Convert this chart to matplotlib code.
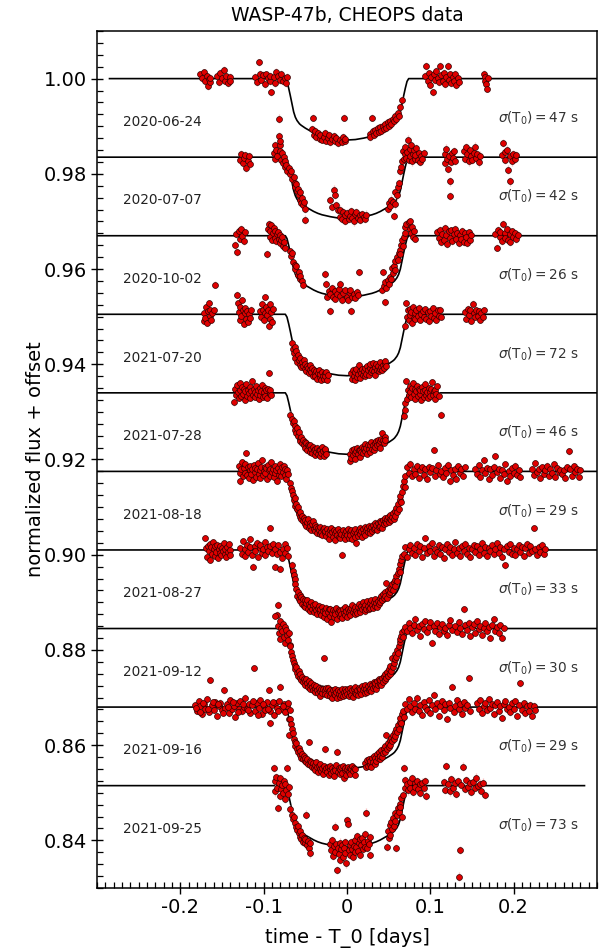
import numpy as np
import matplotlib
matplotlib.use("Agg")
import matplotlib.pyplot as plt
from matplotlib.ticker import MultipleLocator

plt.rcParams['axes.unicode_minus'] = False
plt.rcParams['font.family'] = ['DejaVu Sans']

# ---------------- data ----------------
dates = ["2020-06-24", "2020-07-07", "2020-10-02", "2021-07-20", "2021-07-28",
         "2021-08-18", "2021-08-27", "2021-09-12", "2021-09-16", "2021-09-25"]
sigma_t0_s = [47, 42, 26, 72, 46, 29, 33, 30, 29, 73]
baselines = [1.0, 0.9835, 0.967, 0.9505, 0.934, 0.9175, 0.901, 0.8845, 0.868, 0.8515]
# model-line time extent for each visit (days)
line_start = [-0.285, -0.31, -0.31, -0.31, -0.31, -0.31, -0.31, -0.31, -0.31, -0.31]
line_end = [0.31, 0.31, 0.31, 0.31, 0.31, 0.31, 0.31, 0.31, 0.31, 0.285]
# transit model profile (time in milli-days, depth in ppt)
model_t_md = [-74, -72, -70, -68, -66, -64, -62, -60, -57, -55, -50, -45, -40, -35, -30,
              -25, -20, -10, 0, 10, 20, 25, 30, 35, 40, 45, 50, 55, 57, 60, 62, 64, 66,
              68, 70, 72, 74]
model_depth_ppt = [0, 0.6, 2.0, 3.6, 5.3, 7.0, 8.1, 8.8, 9.5, 9.8, 10.4, 10.9, 11.4, 11.8,
                   12.1, 12.3, 12.5, 12.8, 12.9, 12.8, 12.5, 12.3, 12.1, 11.8, 11.4, 10.9,
                   10.4, 9.8, 9.5, 8.8, 8.1, 7.0, 5.3, 3.6, 2.0, 0.6, 0]
err_ppt = [0.8, 0.9, 0.8, 0.7, 0.7, 0.7, 0.7, 0.7, 0.7, 0.9]

# light-curve points: pairs (time in milli-days, flux deviation from baseline in ppt)
lc_0624 = [
 -176,0.9, -174,0.2, -172,1.3, -170,-0.5, -168,0.6, -167,-1.5, -166,-0.1, -165,-0.8, -164,0.2,
 -156,0.5, -154,-0.7, -152,1.2, -150,0.1, -148,1.9, -147,-0.4, -145,0.6, -143,-1.0, -141,0.3, -140,-0.6,
 -110,0.4, -108,-0.8, -106,3.4, -105,1.0, -103,-0.2, -101,0.7, -99,-1.1, -97,0.9, -95,0.2, -93,-0.6, -92,0.5, -91,-2.9,
 -88,0.3, -86,-0.9, -85,1.4, -83,0.6, -81,-0.3, -79,1.0, -77,-0.5, -75,0.2, -73,-1.0, -72,0.4,
 -42,-10.6, -41,-8.2, -40,-11.8, -38,-11.0, -37,-12.3, -35,-11.5, -33,-12.6, -32,-11.9, -30,-12.8, -28,-12.2,
 -27,-11.4, -25,-13.0, -23,-12.4, -22,-11.8, -20,-13.4, -18,-12.7, -16,-12.0, -15,-13.1, -13,-12.5, -11,-13.6,
 -8,-12.9, -6,-13.3, -5,-12.2, -4,-8.2, -3,-13.0, -2,-12.6,
 27,-11.6, 28,-12.3, 30,-8.2, 31,-11.0, 32,-11.9, 34,-10.7, 35,-11.5, 37,-10.4, 38,-11.2, 40,-10.1,
 41,-10.9, 43,-9.9, 44,-10.6, 46,-9.5, 47,-10.3, 49,-9.2, 50,-9.9, 52,-8.8, 53,-9.6, 55,-8.4,
 56,-9.0, 58,-7.9, 59,-8.5, 61,-7.2, 62,-7.8, 64,-6.0, 66,-4.4,
 94,0.5, 95,2.7, 97,-0.6, 98,1.1, 100,-1.4, 101,0.3, 103,-2.9, 104,0.9, 106,-0.3, 107,1.6,
 109,0.2, 110,-0.8, 112,2.6, 113,0.7, 115,-0.5, 116,1.2, 118,-1.1, 119,0.4, 121,2.6, 122,-0.2,
 124,0.9, 125,-0.9, 127,0.3, 128,-0.4, 130,1.0, 131,-1.3, 133,0.1, 134,-0.7,
 164,1.0, 165,0.3, 166,-0.5, 167,-1.2, 168,-2.1, 169,0.1]

lc_0707 = [
 -128,-0.5, -127,0.6, -125,-1.2, -124,-0.1, -122,0.4, -121,-2.2, -119,-0.8, -118,0.2, -117,-1.5,
 -88,0.8, -87,2.5, -86,-0.3, -85,1.5, -84,0.2, -82,8.1, -82,4.4, -81,2.6, -80,3.3, -80,1.2,
 -79,-0.5, -78,0.9, -77,-1.3, -76,0.1, -75,-2.0, -74,-0.7, -73,-1.6, -72,-2.8, -70,-2.2, -69,-3.5,
 -67,-3.0, -66,-4.6, -64,-4.1, -63,-5.4, -62,-6.3, -61,-5.7, -60,-7.1, -59,-6.6, -58,-8.0, -57,-7.4,
 -56,-8.9, -55,-9.6, -54,-8.5, -53,-10.1, -52,-9.4, -51,-10.8, -50,-13.1,
 -20,-9.0, -18,-10.5, -16,-6.8, -14,-7.9, -13,-10.1, -11,-11.2, -9,-12.5, -8,-11.0, -6,-12.9, -5,-11.6,
 -3,-13.4, -2,-12.2, 0,-11.8, 2,-13.0, 3,-12.4, 5,-11.3, 6,-12.7, 8,-13.5, 10,-12.0, 11,-11.5,
 13,-12.8, 15,-12.2, 16,-13.2, 18,-11.9, 20,-12.5, 22,-13.0, 23,-12.1,
 49,-10.8, 50,-9.6, 52,-10.2, 53,-8.9, 55,-9.5, 56,-12.4, 57,-9.9, 58,-7.4, 60,-8.0, 61,-6.2, 62,-5.5,
 64,-3.0, 65,-2.1, 66,-0.8, 67,1.2, 68,-0.4, 69,0.6, 70,2.2, 71,-0.2, 72,1.0, 73,3.7,
 74,-0.6, 75,1.8, 76,0.3, 77,2.6, 78,-0.9, 79,0.7, 80,1.5, 81,-0.3, 82,0.4, 83,1.9,
 85,-0.5, 86,0.8, 88,-1.0, 89,0.2, 90,-0.4, 92,0.9,
 117,0.6, 118,-1.3, 119,1.8, 120,-0.4, 121,-2.5, 122,0.2, 123,-8.2, 124,-5.1, 125,-1.0, 126,0.9,
 127,-0.2, 128,1.3, 130,-0.7,
 140,1.2, 141,-0.3, 143,2.1, 144,0.6, 146,-0.9, 147,1.5, 149,0.2, 150,-0.6, 152,0.9, 153,2.2,
 155,-0.2, 156,0.7, 158,-1.1, 160,0.3,
 186,0.4, 187,3.0, 189,1.1, 190,-0.5, 192,1.6, 193,-2.6, 195,-5.1, 196,0.2, 198,-0.9, 199,0.7,
 201,-0.3, 203,0.5]

lc_1002 = [
 -134,-2.0, -133,0.4, -132,-3.5, -130,1.0, -129,-0.6, -127,1.5, -126,0.0, -124,-1.1, -123,0.7,
 -96,-3.9, -95,1.4, -94,2.5, -93,-0.3, -92,0.9, -91,2.2, -90,-0.8, -89,0.5, -88,1.6, -87,-0.5,
 -86,1.0, -85,-1.2, -84,0.3, -83,0.8, -82,-0.6, -81,-1.5, -80,0.2, -79,-1.0, -78,-0.3, -77,-2.1,
 -76,-1.4, -75,-2.6,
 -68,-3.3, -67,-4.2, -66,-3.7, -65,-5.5, -63,-6.1, -62,-7.0, -61,-6.4, -59,-8.2, -58,-7.6, -57,-9.0,
 -56,-8.4, -54,-9.6, -53,-10.3,
 -26,-8.1, -25,-10.2, -24,-12.8, -22,-11.6, -21,-15.8, -20,-12.2, -18,-11.0, -17,-12.9, -15,-11.7, -14,-13.2,
 -12,-12.3, -10,-11.1, -9,-10.2, -8,-12.6, -6,-13.5, -5,-12.0, -3,-11.4, 0,-12.8, 1,-13.6, 3,-12.1,
 4,-11.5, 5,-15.8, 6,-12.9, 8,-12.2, 10,-13.0, 12,-11.8, 13,-12.5, 14,-7.7,
 42,-11.4, 43,-7.7, 44,-10.6, 45,-14.0, 46,-9.8, 47,-10.9, 49,-9.3, 50,-10.1, 51,-8.6, 53,-9.0,
 54,-6.7, 55,-7.9, 56,-6.3, 57,-7.2, 58,-5.4, 60,-4.5, 61,-5.2, 62,-3.6, 63,-2.9, 64,-3.8,
 65,-1.9, 66,-1.0, 67,-2.2, 68,-0.3, 69,0.5, 70,1.9, 71,2.4,
 74,2.8, 75,1.5, 76,3.0, 77,0.6, 78,1.8, 79,-0.2, 80,0.9, 81,-0.6,
 108,0.8, 110,-0.5, 111,1.3, 113,-1.4, 114,0.4, 116,-0.9, 117,1.6, 119,0.1, 120,-1.8, 122,0.9,
 123,-0.4, 125,1.1, 126,-1.2, 128,0.3, 129,1.5, 131,-0.7, 132,0.6, 134,-1.5, 135,0.2, 137,-0.6,
 138,1.0, 140,-1.3, 141,0.5, 143,-0.2, 144,-1.6, 146,0.7, 147,-0.9, 149,0.2,
 178,0.4, 180,-2.5, 181,1.2, 183,-0.3, 184,0.8, 186,-1.1, 187,2.5, 189,0.6, 190,-0.5, 192,1.4,
 193,-0.8, 195,0.3, 196,-1.3, 198,0.9, 199,-0.2, 201,0.5, 203,-0.7, 205,0.1]

lc_0720 = [
 -172,-1.4, -171,0.3, -170,-0.7, -169,1.5, -168,-1.8, -167,0.6, -166,2.4, -165,-0.3, -164,1.0, -163,-1.1,
 -162,0.2, -160,0.8, -158,6.2,
 -132,4.1, -131,2.3, -130,0.5, -129,-1.2, -128,1.6, -127,-0.4, -126,3.0, -125,0.9, -124,-2.0, -123,0.2,
 -122,1.3, -121,-0.9, -120,0.6, -119,-1.6, -118,0.1, -116,-0.8, -115,1.0,
 -104,0.7, -103,-0.6, -102,2.2, -101,1.0, -100,-1.3, -99,0.3, -98,3.6, -97,1.5, -96,-0.2, -95,0.8,
 -94,-2.5, -93,2.1, -92,-0.9, -91,0.4, -90,-1.7, -89,1.2,
 -66,-6.0, -65,-7.3, -64,-8.2, -63,-6.9, -62,-9.1, -61,-7.8, -60,-10.0, -59,-8.6, -58,-9.5, -57,-10.6,
 -56,-9.2, -55,-11.0, -54,-10.1, -53,-10.8, -52,-9.7, -51,-11.5, -50,-10.4, -49,-11.9, -48,-10.9, -47,-11.3,
 -46,-12.4, -45,-10.7, -44,-11.8, -43,-12.1, -42,-11.2, -41,-13.0, -40,-11.6, -39,-12.3, -38,-12.9, -37,-11.9,
 -36,-13.5, -35,-12.4, -34,-11.8, -33,-13.2, -32,-12.6, -31,-13.8, -30,-12.1, -29,-12.9, -28,-13.6, -27,-12.4,
 -26,-13.0, -25,-12.2, -24,-13.8, -23,-12.7,
 5,-12.4, 6,-13.5, 7,-11.6, 8,-12.9, 9,-13.8, 10,-12.2, 11,-11.4, 12,-13.1, 13,-12.6, 14,-10.7,
 15,-12.0, 16,-13.3, 17,-12.3, 18,-11.5, 19,-12.8, 20,-11.9, 21,-13.0, 22,-11.2, 23,-12.5, 24,-10.9,
 25,-11.8, 26,-12.7, 27,-11.3, 28,-10.5, 29,-12.1, 30,-11.6, 31,-10.2, 32,-11.9, 33,-12.8, 34,-11.1,
 35,-10.4, 36,-11.7, 37,-10.8, 38,-12.0, 39,-11.4, 40,-10.1, 41,-11.0, 42,-11.8, 43,-10.6, 44,-11.3,
 45,-10.3, 46,-9.8, 47,-10.9,
 70,-2.5, 71,2.4, 72,-0.6, 73,0.8, 74,-1.3, 75,1.2, 76,-0.2, 77,0.5, 78,-1.9, 79,1.6,
 80,-0.7, 81,0.3, 82,-1.0, 83,0.9, 85,-0.4, 86,1.4, 88,-1.2, 89,0.1, 91,0.7, 92,-0.5,
 94,1.1, 95,-0.9, 97,0.4, 98,-1.5, 100,0.6, 101,-0.3, 103,1.3, 104,-0.8, 106,0.2, 107,-1.1,
 109,0.8, 110,-0.4, 112,1.0, 113,-0.6,
 142,0.5, 143,-0.9, 145,1.2, 146,-0.2, 148,0.8, 149,-1.4, 151,2.2, 152,0.3, 154,-0.6, 155,1.0,
 157,-0.3, 158,0.6, 160,-1.1, 161,0.2, 163,-0.5, 164,0.9]

lc_0728 = [
 -136,-2.0, -134,0.8, -133,-0.5, -132,1.6, -131,0.2, -130,-1.0, -129,2.1, -128,0.5, -127,-0.7, -126,1.3,
 -125,-0.2, -124,0.9, -123,-1.4, -122,0.4, -121,1.8, -120,-0.6, -119,0.7, -118,-0.1, -117,1.2, -116,-1.1,
 -115,0.3, -114,2.4, -113,-0.4, -112,0.9, -111,-0.9, -110,0.1, -109,1.5, -108,-0.3, -107,0.6, -106,-1.2,
 -105,1.0, -104,-0.5, -103,0.4, -102,1.7, -101,-0.8, -100,0.2, -99,1.1, -98,-0.6, -97,0.5, -96,-1.0,
 -95,0.8, -94,4.2, -93,-0.2, -92,0.6, -91,-0.4,
 -68,-4.6, -66,-5.4, -65,-6.3, -64,-5.9, -63,-7.0, -62,-7.8, -61,-8.5, -60,-7.4, -59,-9.0, -58,-8.2,
 -57,-9.6, -56,-10.1,
 -55,-9.2, -54,-10.5, -53,-9.8, -52,-11.0, -51,-10.3, -50,-11.5, -49,-10.6, -48,-11.9, -47,-10.9, -46,-11.2,
 -45,-12.4, -44,-11.0, -43,-11.7, -42,-12.6, -41,-11.3, -40,-12.1, -39,-13.0, -38,-11.8, -37,-12.4, -36,-11.5,
 -35,-12.8, -34,-12.0, -33,-13.2, -32,-11.9, -31,-12.6, -30,-11.4, -29,-12.3, -28,-13.3, -27,-12.1, -26,-11.7,
 -25,-12.9,
 3,-14.4, 4,-12.8, 5,-13.6, 6,-12.1, 7,-13.1, 8,-11.8, 9,-12.6, 10,-13.8, 11,-12.3, 12,-11.5,
 13,-12.9, 14,-12.0, 15,-13.4, 16,-11.9, 17,-12.5, 18,-11.3, 19,-12.7, 20,-11.6, 21,-10.8, 22,-12.2,
 23,-11.5, 24,-12.8, 25,-10.9, 26,-11.7, 27,-12.4, 28,-11.0, 29,-10.4, 30,-11.8, 31,-10.9, 32,-12.0,
 33,-10.6, 34,-11.3, 35,-10.1, 36,-11.0, 37,-9.8, 38,-10.7, 39,-11.5, 40,-10.2, 41,-9.6, 42,-8.4,
 43,-9.9, 44,-10.5, 45,-9.2, 46,-10.0,
 68,-4.9, 69,-3.6, 70,-2.2, 71,2.5, 72,-1.3, 73,0.6, 74,-0.5, 75,1.4, 76,0.2, 77,-0.9,
 78,1.0, 79,2.1, 80,-0.3, 81,0.8, 82,-1.2, 83,0.4, 84,1.5, 85,-0.6, 86,0.9, 87,-0.2,
 88,0.5, 89,-1.5, 90,1.2, 91,0.3, 92,-0.8, 93,0.7, 94,1.9, 95,-0.4, 96,0.2, 97,-1.0,
 98,1.1, 99,0.1, 100,-0.7, 101,0.9, 102,2.2, 103,-0.5, 104,0.3, 105,-1.2, 106,0.6, 107,-0.3,
 108,1.4, 110,-0.6, 113,-4.6]

lc_0818 = [
 -130,1.2, -129,-0.3, -128,-2.1, -127,0.5, -126,2.0, -125,-1.0, -124,0.7, -123,-0.4, -122,1.5, -121,3.9,
 -120,-0.7, -119,0.9, -118,-1.4, -117,0.2, -116,1.1, -115,-0.6, -114,0.6, -113,-1.8, -112,1.3, -111,-0.2,
 -110,0.8, -109,-1.1, -108,0.4, -107,1.7, -106,-0.5, -105,0.3, -104,-1.3, -103,0.9, -102,2.3, -101,-0.8,
 -100,0.1, -99,1.0, -98,-0.3, -97,0.7, -96,-1.5, -95,1.4, -94,0.2, -93,-0.9, -92,0.6, -91,1.9,
 -90,-0.2, -89,0.5, -88,-1.2, -87,1.1, -86,-0.4, -85,0.3, -84,-2.0, -83,0.8, -82,-0.7, -81,1.6,
 -80,0.1, -79,-1.0, -78,0.9, -77,-0.1, -76,1.2, -75,-0.8, -74,0.4, -73,-1.6, -72,0.2, -71,-0.5,
 -68,-2.5, -67,-3.4, -66,-4.2, -65,-5.0, -64,-6.1, -63,-5.6, -62,-7.2, -61,-6.8, -60,-8.0, -59,-7.5,
 -58,-8.9, -57,-9.6, -56,-8.6, -55,-10.1, -54,-9.3, -53,-10.5, -52,-9.7, -51,-11.0, -50,-10.2, -49,-11.4,
 -48,-10.6, -47,-9.9, -46,-11.8, -45,-10.9, -44,-11.5, -43,-12.3, -42,-11.1, -41,-10.4, -40,-12.0, -39,-11.3,
 -38,-12.6, -37,-11.7, -36,-12.9, -35,-11.9, -34,-12.4, -33,-13.1, -32,-11.6, -31,-12.7, -30,-13.4, -29,-12.2,
 -28,-11.8, -27,-13.0, -26,-12.5, -25,-13.6, -24,-12.0, -23,-12.9, -22,-14.2, -21,-12.4, -20,-13.2, -19,-11.9,
 -18,-12.8, -17,-13.7, -16,-12.3, -15,-13.0, -14,-14.5, -13,-12.6, -12,-13.3, -11,-12.1, -10,-13.8, -9,-12.7,
 -8,-14.0, -7,-13.1, -6,-17.5, -5,-12.4, -4,-13.5, -3,-12.9, -2,-14.1, -1,-12.6, 0,-13.3, 1,-12.0,
 2,-13.9, 3,-12.8, 4,-13.4, 5,-12.3, 6,-14.3, 7,-13.0, 8,-12.5, 9,-13.7, 10,-12.2, 11,-15.1,
 12,-12.9, 13,-13.5, 14,-12.4, 15,-11.8, 16,-13.1, 17,-12.6, 18,-13.8, 19,-12.0, 20,-12.9, 21,-11.6,
 22,-13.3, 23,-12.4, 24,-11.9, 25,-12.8, 26,-11.4, 27,-12.3, 28,-13.0, 29,-11.7, 30,-12.5, 31,-11.2,
 32,-12.1, 33,-10.8, 34,-11.9, 35,-11.3, 36,-12.4, 37,-10.9, 38,-11.6, 39,-10.5, 40,-11.4, 41,-10.7,
 42,-11.8, 43,-10.2, 44,-11.1, 45,-10.4, 46,-9.8, 47,-10.9, 48,-10.1, 49,-9.5, 50,-10.6, 51,-9.9,
 52,-9.2, 53,-10.3, 54,-9.6, 55,-8.8, 56,-9.9, 57,-8.4, 58,-9.3, 59,-7.6, 60,-8.5, 61,-6.9,
 62,-7.8, 63,-6.1, 64,-5.2, 65,-6.4, 66,-4.3, 67,-3.0, 68,-2.1, 69,-1.0, 70,-3.2,
 72,0.9, 74,-0.3, 76,1.6, 78,-1.0, 80,0.4, 82,-0.5, 84,1.2, 86,-1.3, 88,0.2, 90,0.9,
 92,-0.7, 94,0.5, 96,-1.6, 98,1.0, 100,-0.2, 102,0.7, 104,4.5, 105,-0.9, 107,0.3, 109,1.3,
 111,-0.6, 113,0.1, 115,-1.2, 117,0.8, 119,-0.4, 121,1.4, 123,-2.1, 125,0.2, 127,-0.8, 129,0.6,
 131,-1.5, 133,1.1, 135,-0.3, 137,0.4, 139,-1.0, 141,0.9,
 154,0.6, 156,-0.5, 158,1.3, 160,-1.1, 162,0.2, 164,2.3, 166,-0.3, 168,0.8, 170,-1.6, 172,0.4,
 174,-0.8, 176,1.0, 178,3.2, 180,-0.2, 182,0.6, 184,-1.3, 186,0.3, 188,-0.6, 190,1.5, 192,-2.0,
 194,0.1, 196,-0.9, 198,0.7, 200,-0.4, 202,1.2, 204,-0.7, 206,0.3, 208,-1.1,
 222,0.5, 224,-0.8, 226,1.7, 228,-0.2, 230,0.6, 232,-1.3, 234,0.9, 236,-0.5, 238,0.2, 240,1.2,
 242,-0.9, 244,0.4, 246,-0.3, 248,1.5, 250,-1.1, 252,0.7, 254,-0.1, 256,0.3, 258,-0.6, 260,0.3,
 262,-1.4, 264,0.9, 266,4.2, 268,0.6, 270,-0.9, 272,1.1, 274,-0.2, 276,0.5, 278,-1.2, 280,0.2]

lc_0827 = [
 -170,2.5, -169,0.4, -168,-1.5, -167,0.9, -166,-0.3, -165,1.3, -164,-2.1, -163,0.6, -162,-0.8, -161,1.6,
 -160,0.1, -159,-1.2, -158,0.8, -157,-0.4, -156,1.1, -155,-1.7, -154,0.3, -153,-0.6, -152,0.9, -151,-1.0,
 -150,0.5, -149,-0.2, -148,1.4, -147,-0.9, -146,0.2, -145,-1.4, -144,0.7, -143,-0.5, -142,1.2, -141,-0.1,
 -140,-1.1,
 -128,0.5, -126,-0.9, -125,1.8, -123,0.3, -122,-1.3, -120,1.0, -119,-0.4, -117,2.2, -116,0.6, -114,-1.0,
 -113,-3.5, -111,0.8, -110,-0.3, -108,1.5, -107,-1.5, -105,0.4, -104,1.1, -102,-0.6, -101,0.2, -99,1.7,
 -98,-1.1, -96,0.7, -95,-0.2, -93,4.6, -92,0.9, -90,-0.7, -89,1.3, -87,-3.5, -86,0.3, -84,-0.9,
 -83,1.0, -81,-0.4, -80,-3.9, -78,-1.6, -77,0.2, -75,1.2, -74,-0.7, -72,0.5, -71,-1.2,
 -66,-3.1, -65,-4.4, -64,-5.2, -63,-6.0, -62,-7.1, -61,-8.3, -60,-9.6, -59,-8.8, -58,-10.2, -57,-9.4,
 -56,-10.8, -55,-9.9, -54,-11.3, -53,-10.4, -52,-11.7, -51,-10.6, -50,-12.0, -49,-11.1, -48,-10.5, -47,-12.3,
 -46,-11.4, -45,-12.8, -44,-11.8, -43,-10.9, -42,-12.5, -41,-11.6, -40,-13.0, -39,-12.1, -38,-11.3, -37,-12.7,
 -36,-13.4, -35,-12.2, -34,-11.7, -33,-13.1, -32,-12.4, -31,-13.7, -30,-12.0, -29,-12.9, -28,-14.1, -27,-12.6,
 -26,-13.3, -25,-12.1, -24,-14.4, -23,-13.0, -22,-12.5, -21,-13.8, -20,-12.3, -19,-15.1, -18,-13.2, -17,-12.7,
 -16,-14.0, -15,-12.9, -14,-13.5, -13,-12.2, -12,-14.6, -11,-13.1, -10,-12.6, -9,-13.9, -8,-12.8, -7,-13.4,
 -6,-14.3, -5,-12.5, -4,-13.2, -3,-12.0, -2,-13.7, -1,-12.9, 0,-14.0, 1,-12.4, 2,-13.1, 3,-12.7,
 4,-13.6, 5,-12.1, 6,-11.5, 7,-13.0, 8,-12.3, 9,-13.5, 10,-11.9, 11,-12.8, 12,-13.3, 13,-12.0,
 14,-11.4, 15,-12.6, 16,-13.1, 17,-11.8, 18,-12.4, 19,-10.9, 20,-12.0, 21,-12.9, 22,-11.6, 23,-12.3,
 24,-10.8, 25,-11.7, 26,-12.5, 27,-11.2, 28,-12.1, 29,-10.6, 30,-11.5, 31,-12.2, 32,-10.9, 33,-11.8,
 34,-10.3, 35,-11.1, 36,-12.0, 37,-10.7, 38,-11.4, 39,-10.0, 40,-11.0, 41,-9.7, 42,-10.6, 43,-9.2,
 44,-10.1, 45,-8.8, 46,-9.7, 47,-7.0, 48,-10.0, 49,-8.4, 50,-9.3, 51,-7.9, 52,-8.8, 53,-8.1,
 54,-7.2, 55,-8.4, 56,-6.8, 57,-7.6, 58,-6.3, 59,-5.5, 60,-6.6, 61,-4.8, 62,-3.9, 63,-4.6,
 64,-3.0, 65,-2.2, 66,-1.3,
 68,-0.9, 70,0.6, 72,-1.4, 74,0.2, 76,1.1, 78,-0.6, 80,0.4, 82,-1.0, 84,1.3, 86,-0.3,
 88,0.8, 90,-1.5, 92,0.5, 94,2.5, 96,-0.7, 98,0.9, 100,-0.2, 102,1.4, 104,-1.2, 106,0.3,
 108,-0.5, 110,1.0, 112,-0.9, 114,0.6, 116,-1.6, 118,0.2, 120,1.2, 122,-0.4, 124,0.7, 126,-1.1,
 128,0.1, 130,1.6, 132,-0.6, 134,0.4, 136,-1.3, 138,0.9, 140,-0.2, 142,1.3, 144,-0.8, 146,0.5,
 148,-1.4, 150,0.3, 152,1.0, 154,-0.5, 156,0.8, 158,-1.0, 160,0.2, 162,1.5, 164,-0.7, 166,0.6,
 168,-1.2, 170,0.4, 172,-0.3, 174,1.1, 176,-0.9, 178,0.3, 180,1.4, 182,-0.6, 184,0.7, 186,-1.5,
 188,0.1, 190,-3.2, 192,0.9, 194,-0.4, 196,1.2, 198,-0.8, 200,0.5, 202,-1.1, 204,0.2, 206,1.0,
 208,-0.5, 210,0.6, 212,-1.3, 214,0.4, 216,1.3, 218,-0.7, 220,0.8, 222,-0.2, 224,4.6, 226,0.3,
 228,-1.0, 230,0.7, 232,-0.4, 234,1.1, 236,-0.8, 238,0.2]

lc_0912 = [
 -84,2.9, -83,0.6, -82,-1.0, -81,1.5, -80,-2.2, -79,0.2, -78,-0.6, -77,1.0, -76,-1.8, -75,0.4,
 -74,-3.0, -73,-0.3, -72,-1.4, -71,-2.5, -70,-0.9, -69,-3.4, -83,5.0, -86,2.6,
 -68,-3.7, -67,-4.9, -66,-5.8, -65,-6.6, -64,-7.3, -63,-7.9, -62,-8.6, -61,-8.1, -60,-9.3, -59,-9.9,
 -58,-9.0, -57,-10.4, -56,-9.6, -55,-10.9, -54,-10.2, -53,-11.3, -52,-10.5,
 -51,-11.0, -50,-11.8, -49,-10.7, -48,-11.5, -47,-12.2, -46,-11.1, -45,-11.9, -44,-12.6, -43,-11.4, -42,-12.3,
 -41,-13.0, -40,-11.8, -39,-12.7, -38,-13.4, -37,-12.1, -36,-12.9, -35,-13.6, -34,-12.4, -33,-13.2, -32,-14.1,
 -31,-12.6, -30,-13.5, -29,-12.8, -28,-6.2, -27,-13.0, -26,-13.7, -25,-12.5, -24,-13.9, -23,-12.4, -22,-13.1,
 -21,-14.2, -20,-12.9, -19,-13.6, -18,-14.5, -17,-13.0, -16,-13.8, -15,-12.7, -14,-14.0, -13,-13.3, -12,-14.6,
 -11,-12.9, -10,-13.7, -9,-14.3, -8,-13.1, -7,-13.9, -6,-12.6, -5,-14.2, -4,-13.4, -3,-12.8, -2,-14.0,
 -1,-13.2, 0,-13.8, 1,-12.7, 2,-14.1, 3,-13.3, 4,-12.5, 5,-13.9, 6,-13.0, 7,-14.4, 8,-12.8,
 9,-13.5, 10,-12.2, 11,-13.7, 12,-12.9, 13,-14.0, 14,-12.4, 15,-13.3, 16,-12.6, 17,-13.8, 18,-12.1,
 19,-13.0, 20,-12.5, 21,-13.6, 22,-11.9, 23,-12.8, 24,-13.4, 25,-12.0, 26,-12.9, 27,-11.6, 28,-12.6,
 29,-13.2, 30,-11.8, 31,-12.4, 32,-11.2, 33,-12.2, 34,-11.5, 35,-12.7, 36,-11.0, 37,-11.9, 38,-10.6,
 39,-11.6, 40,-10.9, 41,-11.8, 42,-10.3, 43,-11.2, 44,-10.0, 45,-10.9, 46,-9.5, 47,-10.4, 48,-9.1,
 49,-10.0, 50,-8.6, 51,-9.5, 52,-7.9, 53,-8.9, 54,-6.2, 55,-8.0, 56,-7.3,
 57,-6.5, 58,-5.4, 59,-6.0, 60,-4.6, 61,-5.1, 62,-3.7, 63,-2.9, 64,-2.2, 65,-1.5, 66,-0.8,
 67,-1.8, 68,-0.3,
 70,0.4, 72,-0.6, 74,1.2, 76,0.2, 78,-1.0, 80,0.8, 82,2.1, 84,-0.4, 86,0.5, 88,-1.5,
 90,1.0, 92,-0.2, 94,1.6, 96,-0.8, 98,0.3, 100,1.3, 102,-3.0, 104,0.6, 106,-0.5, 108,1.1,
 110,-1.2, 112,0.4, 114,0.9, 116,-0.6, 118,0.1, 120,-1.4, 122,0.7, 124,1.8, 126,-0.3,
 130,0.5, 132,-0.7, 134,1.4, 136,0.1, 138,-1.1, 140,4.0, 142,0.8, 144,-0.4, 146,1.2, 148,-1.6,
 150,0.3, 152,0.9, 154,-0.9, 156,1.5, 158,-0.2, 160,0.6, 162,-1.3, 164,0.2, 166,1.1, 168,-0.6,
 170,0.4, 172,-1.9, 174,0.8, 176,2.0, 178,-0.5, 180,0.3, 182,-1.0, 184,0.7, 186,-2.0, 188,0.1]

lc_0916 = [
 -182,0.5, -180,-0.8, -178,1.3, -176,0.2, -174,-1.5, -172,0.7, -170,-0.3, -168,1.6, -166,-1.0, -164,5.7,
 -162,0.4, -160,-0.6, -158,1.1, -156,-1.8, -154,0.2, -152,0.9, -150,-0.7, -148,3.5, -146,-0.2, -144,0.6,
 -142,-1.3, -140,1.4, -138,-0.4, -136,0.3, -134,-2.1, -132,0.8, -130,-0.5, -128,1.2, -126,-0.9, -124,0.1,
 -122,2.0, -120,-0.3, -118,0.7, -116,-1.2, -114,0.5, -112,8.2, -110,-0.8, -108,0.9, -106,-0.1, -104,1.5,
 -102,-1.4, -100,0.3, -98,-0.6, -96,1.0, -94,3.6, -93,-3.4, -92,-0.9, -90,0.4, -88,-1.7, -86,0.8,
 -84,-0.2, -82,1.3, -80,4.3, -78,-0.5, -76,0.6, -74,-1.0, -72,0.2, -70,-2.4, -69,-0.6,
 -181,-0.2, -177,-1.1, -173,0.9, -167,-0.4, -161,1.0, -155,0.6, -149,-1.2, -143,0.1, -137,1.1, -131,-1.0,
 -125,0.6, -119,-0.7, -113,1.3, -107,-1.6, -101,0.7, -95,-0.5, -89,1.1, -83,-0.8, -77,0.3, -71,0.9,
 -70,-5.9, -68,-2.5, -67,-3.6, -66,-4.7, -65,-5.5, -64,-6.6, -63,-7.4, -62,-8.1, -61,-7.6, -60,-8.9,
 -59,-9.5, -58,-8.6, -57,-10.1, -56,-9.3, -55,-10.6, -54,-9.9, -53,-11.0, -52,-10.3, -51,-11.4, -50,-10.7,
 -49,-11.6, -48,-10.9, -47,-11.9, -46,-7.3, -45,-11.3, -44,-12.2, -43,-11.5, -42,-12.6, -41,-11.8, -40,-12.9,
 -39,-12.1, -38,-13.3, -37,-11.6, -36,-12.5, -35,-13.7, -34,-12.3, -33,-13.0, -32,-12.0, -31,-13.5, -30,-12.7,
 -29,-14.0, -28,-12.4, -27,-13.2, -26,-8.9, -25,-12.8, -24,-13.6, -23,-12.5, -22,-14.2, -21,-13.0, -20,-12.3,
 -19,-13.8, -18,-12.9, -17,-13.4, -16,-14.5, -15,-12.7, -14,-13.3, -13,-12.2, -12,-9.4, -11,-13.6, -10,-12.8,
 -9,-14.1, -8,-13.1, -7,-12.6, -6,-13.9, -5,-12.4, -4,-15.0, -3,-13.2, -2,-12.7, -1,-14.3, 0,-13.0,
 1,-12.6, 2,-13.7, 3,-12.9, 4,-14.0, 5,-13.1, 6,-12.4, 7,-13.5, 8,-12.8, 9,-14.2, 10,-13.0,
 22,-11.7, 23,-12.6, 24,-11.2, 25,-12.3, 26,-10.9, 27,-12.0, 28,-11.4, 29,-12.5, 30,-10.7, 31,-11.6,
 32,-10.3, 33,-11.9, 34,-10.6, 35,-11.3, 36,-9.9, 37,-10.8, 38,-9.5, 39,-11.0, 40,-10.2, 41,-9.1,
 42,-10.4, 43,-9.7, 44,-8.6, 45,-9.4, 46,-8.2, 47,-5.9, 48,-8.8, 49,-7.5, 50,-8.3, 51,-7.0,
 52,-7.9, 53,-6.4, 54,-7.2, 55,-5.8, 56,-6.7, 57,-5.2, 58,-6.0, 59,-4.5, 60,-5.3, 61,-3.8,
 62,-4.6, 63,-3.1, 64,-2.2, 65,-3.4, 66,-1.5, 67,-0.8, 68,-2.0,
 70,0.6, 72,-0.5, 74,1.6, 76,0.3, 78,-1.1, 80,0.9, 82,-0.3, 84,2.0, 86,-0.8, 88,0.5,
 90,-1.6, 92,1.1, 94,0.1, 96,-0.6, 98,1.4, 100,-1.3, 102,0.4, 104,2.6, 106,-0.4, 108,0.8,
 110,-1.9, 112,0.2, 114,1.2, 116,-0.7, 118,0.6, 120,-2.4, 122,0.9, 124,-0.2, 126,4.3, 128,-1.0,
 130,0.3, 132,1.5, 134,-0.5, 136,0.7, 138,-1.4, 140,1.0, 142,-0.1, 144,0.5, 146,6.1, 148,-0.9,
 156,0.8, 158,-0.4, 160,1.4, 162,-1.2, 164,0.3, 166,0.9, 168,-0.7, 170,1.7, 172,-0.2, 174,0.6,
 176,-1.5, 178,0.4, 180,1.1, 182,-0.9, 184,0.2, 186,-2.2, 188,0.7, 190,1.3, 192,-0.5, 194,0.1,
 196,-1.1, 198,0.9, 200,-0.3, 202,1.2, 204,-1.8, 206,0.4, 208,5.0, 210,-0.6, 212,0.8, 214,-1.3,
 216,0.2, 218,-0.8, 220,0.5, 222,-1.9, 224,0.3, 226,-0.7]

lc_0925 = [
 -88,3.7, -87,0.9, -86,-1.2, -85,1.8, -84,-0.4, -83,-4.7, -82,0.5, -81,-2.2, -80,1.5, -79,-0.8,
 -78,0.2, -77,-1.6, -76,1.0, -75,-2.8, -74,0.4, -73,-0.9, -72,3.7, -71,-1.8, -70,-0.3,
 -68,-5.0, -66,-6.2, -65,-7.0, -64,-6.5, -62,-7.9, -61,-8.6, -60,-9.3, -59,-8.4, -58,-9.9, -57,-10.7,
 -56,-9.6, -55,-11.2, -54,-10.4, -53,-11.8, -52,-10.9, -51,-12.1, -50,-11.3, -49,-6.1, -48,-12.5, -47,-11.7,
 -46,-13.0, -45,-12.1, -44,-14.2,
 -20,-12.2, -19,-13.5, -18,-11.4, -17,-14.8, -16,-12.7, -15,-8.6, -14,-13.9, -13,-12.3, -12,-17.7, -11,-13.1,
 -10,-14.4, -9,-12.0, -8,-15.6, -7,-13.4, -6,-12.5, -5,-14.9, -4,-13.2, -3,-11.8, -2,-14.1, -1,-16.3,
 0,-7.2, 1,-8.1, 2,-13.6, 3,-12.4, 4,-14.5, 5,-11.9, 6,-13.3, 7,-15.0, 8,-12.7, 9,-11.5,
 10,-14.0, 11,-12.9, 12,-10.6, 13,-13.7, 14,-12.1, 15,-11.3, 16,-14.6, 17,-12.5, 18,-10.9, 19,-13.4,
 20,-11.8, 21,-12.8, 22,-10.2, 23,-5.7, 24,-13.0, 25,-11.6, 26,-12.3, 27,-10.8, 28,-14.6,
 48,-12.8, 49,-9.6, 50,-11.0, 51,-8.2, 52,-10.3, 53,-7.6, 54,-9.1, 55,-6.9, 56,-8.5, 57,-5.8,
 58,-7.4, 59,-13.1, 60,-6.2, 61,-4.8, 62,-5.6, 63,-3.9, 64,-4.5, 65,-2.7, 66,-6.5, 67,-1.9,
 68,3.7, 69,-0.6, 70,1.2, 72,0.3, 73,-1.0, 75,0.8, 76,-0.4, 78,1.5, 79,-1.3, 81,0.5,
 82,-0.2, 84,1.0, 85,-0.8, 87,0.3, 88,-1.5, 90,0.6, 92,-0.5, 94,0.9, 95,-2.1,
 116,0.8, 118,-0.9, 119,4.1, 121,0.3, 123,-1.2, 125,1.4, 127,-0.4, 129,0.6, 131,-1.7, 133,0.9,
 134,-19.1, 136,-13.5, 137,0.2, 139,4.0, 141,-0.7, 143,1.2, 145,-0.2, 147,0.5, 149,-1.3, 151,0.8,
 153,-0.5, 155,1.7, 157,-0.1, 159,0.4, 161,-1.1, 163,0.6, 165,-2.0]

curves = [lc_0624, lc_0707, lc_1002, lc_0720, lc_0728,
          lc_0818, lc_0827, lc_0912, lc_0916, lc_0925]

# ---------------- figure ----------------
fig = plt.figure(figsize=(6.01, 9.49), dpi=100)
ax = fig.add_axes([97/601, 1 - 888/949, 500/601, 857/949])

for i, lc in enumerate(curves):
    arr = np.asarray(lc, dtype=float).reshape(-1, 2)
    t = arr[:, 0] / 1000.0
    f = baselines[i] + arr[:, 1] / 1000.0
    base = baselines[i]
    mt = np.concatenate([[line_start[i]], np.asarray(model_t_md) / 1000.0, [line_end[i]]])
    mf = base - np.concatenate([[0.0], np.asarray(model_depth_ppt) / 1000.0, [0.0]])
    ax.plot(mt, mf, color='black', lw=1.2, zorder=2, solid_joinstyle='round')
    ax.errorbar(t, f, yerr=err_ppt[i] / 1000.0, fmt='none', ecolor='#f6b0b0',
                elinewidth=0.9, alpha=0.8, zorder=3)
    ax.scatter(t, f, s=18, c='#e00000', edgecolors='#300000', linewidths=0.5, zorder=4)
    ax.text(-0.269, base - 0.0091, dates[i], ha='left', va='center',
            fontsize=9.8, color='#222222')
    ax.text(0.278, base - 0.0083, r'$\sigma(\mathrm{T}_0) = %d$ s' % sigma_t0_s[i],
            ha='right', va='center', fontsize=9.8, color='#333333')

ax.set_xlim(-0.3, 0.3)
ax.set_ylim(0.830, 1.010)
ax.set_xticks([-0.2, -0.1, 0.0, 0.1, 0.2])
ax.set_xticklabels(['-0.2', '-0.1', '0', '0.1', '0.2'])
ax.set_yticks([0.84, 0.86, 0.88, 0.90, 0.92, 0.94, 0.96, 0.98, 1.00])
ax.set_yticklabels(['0.84', '0.86', '0.88', '0.90', '0.92', '0.94', '0.96', '0.98', '1.00'])
ax.xaxis.set_minor_locator(MultipleLocator(0.01))
ax.yaxis.set_minor_locator(MultipleLocator(0.0025))
ax.tick_params(which='major', direction='inout', length=8, width=1.0, labelsize=14,
               top=False, right=False, pad=3)
ax.tick_params(which='minor', direction='in', length=4, width=0.9, top=False, right=False)
for s in ax.spines.values():
    s.set_linewidth(1.1)

ax.set_xlabel('time - T_0 [days]', fontsize=14, labelpad=8)
ax.set_ylabel('normalized flux + offset', fontsize=14, labelpad=-1)
ax.set_title('WASP-47b, CHEOPS data', fontsize=13.5, pad=7)

fig.savefig('out.png', dpi=100)
